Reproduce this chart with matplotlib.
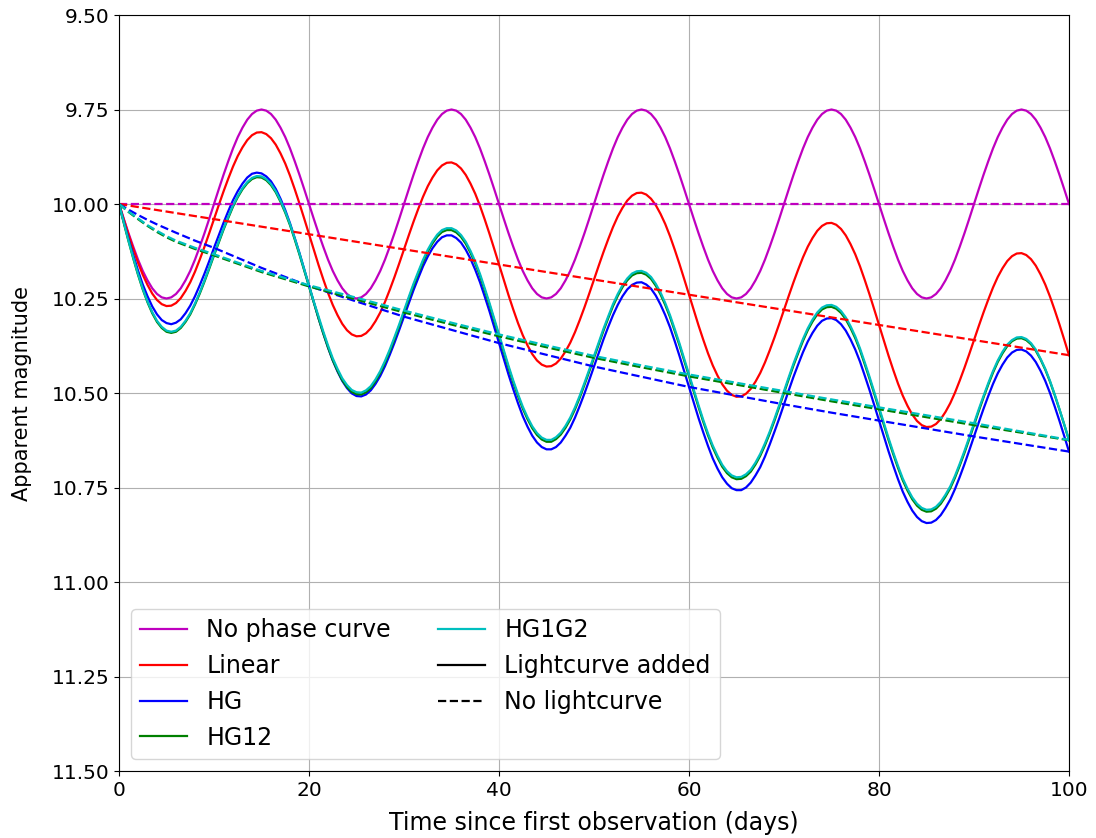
import numpy as np
import matplotlib
matplotlib.use('Agg')
import matplotlib.pyplot as plt
from matplotlib.lines import Line2D
from matplotlib.ticker import FormatStrFormatter

# days, one sample every half day for the curves with the lightcurve added
t_days = np.arange(0, 100.01, 0.5)

mag_none = [
    10.000, 10.039, 10.077, 10.113, 10.147, 10.177, 10.202, 10.223, 10.238, 10.247,
    10.250, 10.247, 10.238, 10.223, 10.202, 10.177, 10.147, 10.113, 10.077, 10.039,
    10.000, 9.961, 9.923, 9.887, 9.853, 9.823, 9.798, 9.777, 9.762, 9.753,
    9.750, 9.753, 9.762, 9.777, 9.798, 9.823, 9.853, 9.887, 9.923, 9.961,
    10.000, 10.039, 10.077, 10.113, 10.147, 10.177, 10.202, 10.223, 10.238, 10.247,
    10.250, 10.247, 10.238, 10.223, 10.202, 10.177, 10.147, 10.113, 10.077, 10.039,
    10.000, 9.961, 9.923, 9.887, 9.853, 9.823, 9.798, 9.777, 9.762, 9.753,
    9.750, 9.753, 9.762, 9.777, 9.798, 9.823, 9.853, 9.887, 9.923, 9.961,
    10.000, 10.039, 10.077, 10.113, 10.147, 10.177, 10.202, 10.223, 10.238, 10.247,
    10.250, 10.247, 10.238, 10.223, 10.202, 10.177, 10.147, 10.113, 10.077, 10.039,
    10.000, 9.961, 9.923, 9.887, 9.853, 9.823, 9.798, 9.777, 9.762, 9.753,
    9.750, 9.753, 9.762, 9.777, 9.798, 9.823, 9.853, 9.887, 9.923, 9.961,
    10.000, 10.039, 10.077, 10.113, 10.147, 10.177, 10.202, 10.223, 10.238, 10.247,
    10.250, 10.247, 10.238, 10.223, 10.202, 10.177, 10.147, 10.113, 10.077, 10.039,
    10.000, 9.961, 9.923, 9.887, 9.853, 9.823, 9.798, 9.777, 9.762, 9.753,
    9.750, 9.753, 9.762, 9.777, 9.798, 9.823, 9.853, 9.887, 9.923, 9.961,
    10.000, 10.039, 10.077, 10.113, 10.147, 10.177, 10.202, 10.223, 10.238, 10.247,
    10.250, 10.247, 10.238, 10.223, 10.202, 10.177, 10.147, 10.113, 10.077, 10.039,
    10.000, 9.961, 9.923, 9.887, 9.853, 9.823, 9.798, 9.777, 9.762, 9.753,
    9.750, 9.753, 9.762, 9.777, 9.798, 9.823, 9.853, 9.887, 9.923, 9.961,
    10.000]

mag_linear = [
    10.000, 10.041, 10.081, 10.119, 10.155, 10.187, 10.214, 10.237, 10.254, 10.265,
    10.270, 10.269, 10.262, 10.249, 10.230, 10.207, 10.179, 10.147, 10.113, 10.077,
    10.040, 10.003, 9.967, 9.933, 9.901, 9.873, 9.850, 9.831, 9.818, 9.811,
    9.810, 9.815, 9.826, 9.843, 9.866, 9.893, 9.925, 9.961, 9.999, 10.039,
    10.080, 10.121, 10.161, 10.199, 10.235, 10.267, 10.294, 10.317, 10.334, 10.345,
    10.350, 10.349, 10.342, 10.329, 10.310, 10.287, 10.259, 10.227, 10.193, 10.157,
    10.120, 10.083, 10.047, 10.013, 9.981, 9.953, 9.930, 9.911, 9.898, 9.891,
    9.890, 9.895, 9.906, 9.923, 9.946, 9.973, 10.005, 10.041, 10.079, 10.119,
    10.160, 10.201, 10.241, 10.279, 10.315, 10.347, 10.374, 10.397, 10.414, 10.425,
    10.430, 10.429, 10.422, 10.409, 10.390, 10.367, 10.339, 10.307, 10.273, 10.237,
    10.200, 10.163, 10.127, 10.093, 10.061, 10.033, 10.010, 9.991, 9.978, 9.971,
    9.970, 9.975, 9.986, 10.003, 10.026, 10.053, 10.085, 10.121, 10.159, 10.199,
    10.240, 10.281, 10.321, 10.359, 10.395, 10.427, 10.454, 10.477, 10.494, 10.505,
    10.510, 10.509, 10.502, 10.489, 10.470, 10.447, 10.419, 10.387, 10.353, 10.317,
    10.280, 10.243, 10.207, 10.173, 10.141, 10.113, 10.090, 10.071, 10.058, 10.051,
    10.050, 10.055, 10.066, 10.083, 10.106, 10.133, 10.165, 10.201, 10.239, 10.279,
    10.320, 10.361, 10.401, 10.439, 10.475, 10.507, 10.534, 10.557, 10.574, 10.585,
    10.590, 10.589, 10.582, 10.569, 10.550, 10.527, 10.499, 10.467, 10.433, 10.397,
    10.360, 10.323, 10.287, 10.253, 10.221, 10.193, 10.170, 10.151, 10.138, 10.131,
    10.130, 10.135, 10.146, 10.163, 10.186, 10.213, 10.245, 10.281, 10.319, 10.359,
    10.400]

mag_hg = [
    10.000, 10.047, 10.092, 10.135, 10.176, 10.213, 10.244, 10.271, 10.292, 10.307,
    10.315, 10.318, 10.314, 10.305, 10.289, 10.269, 10.244, 10.215, 10.184, 10.151,
    10.116, 10.083, 10.050, 10.019, 9.990, 9.966, 9.946, 9.930, 9.920, 9.917,
    9.919, 9.927, 9.940, 9.960, 9.986, 10.016, 10.051, 10.090, 10.130, 10.173,
    10.217, 10.260, 10.302, 10.342, 10.380, 10.414, 10.443, 10.468, 10.487, 10.501,
    10.508, 10.509, 10.504, 10.493, 10.476, 10.455, 10.429, 10.399, 10.367, 10.333,
    10.298, 10.263, 10.228, 10.196, 10.165, 10.139, 10.117, 10.100, 10.088, 10.083,
    10.083, 10.090, 10.102, 10.121, 10.145, 10.174, 10.207, 10.245, 10.284, 10.326,
    10.368, 10.410, 10.451, 10.490, 10.527, 10.561, 10.589, 10.613, 10.631, 10.643,
    10.649, 10.649, 10.643, 10.631, 10.613, 10.592, 10.565, 10.534, 10.501, 10.466,
    10.430, 10.394, 10.358, 10.325, 10.294, 10.267, 10.244, 10.226, 10.214, 10.208,
    10.207, 10.213, 10.224, 10.242, 10.266, 10.294, 10.326, 10.363, 10.402, 10.443,
    10.484, 10.526, 10.566, 10.604, 10.640, 10.673, 10.700, 10.723, 10.740, 10.752,
    10.757, 10.757, 10.750, 10.737, 10.718, 10.696, 10.668, 10.636, 10.602, 10.567,
    10.530, 10.493, 10.457, 10.424, 10.392, 10.364, 10.341, 10.322, 10.309, 10.303,
    10.302, 10.307, 10.318, 10.335, 10.358, 10.385, 10.417, 10.454, 10.492, 10.532,
    10.573, 10.614, 10.654, 10.692, 10.728, 10.761, 10.788, 10.811, 10.828, 10.839,
    10.844, 10.843, 10.836, 10.823, 10.804, 10.782, 10.754, 10.722, 10.688, 10.652,
    10.615, 10.578, 10.542, 10.508, 10.476, 10.448, 10.425, 10.406, 10.393, 10.386,
    10.385, 10.390, 10.401, 10.418, 10.441, 10.468, 10.500, 10.536, 10.574, 10.614,
    10.655]

mag_hg12 = [
    10.000, 10.050, 10.098, 10.144, 10.187, 10.226, 10.260, 10.289, 10.312, 10.328,
    10.338, 10.341, 10.338, 10.328, 10.312, 10.292, 10.266, 10.237, 10.205, 10.171,
    10.136, 10.102, 10.068, 10.037, 10.007, 9.982, 9.961, 9.945, 9.934, 9.929,
    9.930, 9.937, 9.950, 9.969, 9.994, 10.023, 10.056, 10.094, 10.134, 10.176,
    10.218, 10.261, 10.302, 10.342, 10.379, 10.413, 10.441, 10.466, 10.484, 10.497,
    10.503, 10.504, 10.498, 10.487, 10.469, 10.447, 10.420, 10.390, 10.357, 10.323,
    10.287, 10.251, 10.216, 10.184, 10.153, 10.126, 10.104, 10.086, 10.074, 10.069,
    10.069, 10.075, 10.087, 10.105, 10.129, 10.157, 10.190, 10.228, 10.267, 10.308,
    10.350, 10.392, 10.433, 10.472, 10.508, 10.541, 10.569, 10.593, 10.611, 10.623,
    10.629, 10.629, 10.622, 10.610, 10.592, 10.570, 10.543, 10.512, 10.478, 10.443,
    10.407, 10.371, 10.335, 10.302, 10.270, 10.243, 10.220, 10.202, 10.189, 10.183,
    10.182, 10.187, 10.198, 10.216, 10.239, 10.267, 10.299, 10.336, 10.374, 10.415,
    10.456, 10.497, 10.537, 10.576, 10.612, 10.644, 10.671, 10.695, 10.712, 10.723,
    10.728, 10.727, 10.720, 10.708, 10.689, 10.666, 10.638, 10.607, 10.573, 10.537,
    10.500, 10.463, 10.427, 10.394, 10.362, 10.334, 10.311, 10.292, 10.279, 10.273,
    10.272, 10.277, 10.288, 10.305, 10.328, 10.355, 10.387, 10.424, 10.462, 10.502,
    10.543, 10.584, 10.624, 10.662, 10.698, 10.731, 10.758, 10.781, 10.798, 10.809,
    10.814, 10.813, 10.806, 10.793, 10.774, 10.752, 10.724, 10.692, 10.658, 10.622,
    10.585, 10.548, 10.512, 10.478, 10.446, 10.418, 10.395, 10.376, 10.363, 10.356,
    10.355, 10.360, 10.371, 10.388, 10.411, 10.438, 10.470, 10.506, 10.544, 10.584,
    10.625]

mag_hg1g2 = [
    10.000, 10.049, 10.097, 10.142, 10.185, 10.224, 10.258, 10.286, 10.309, 10.325,
    10.335, 10.338, 10.335, 10.325, 10.309, 10.289, 10.263, 10.234, 10.202, 10.168,
    10.133, 10.099, 10.065, 10.034, 10.004, 9.979, 9.958, 9.942, 9.931, 9.926,
    9.927, 9.934, 9.947, 9.966, 9.991, 10.020, 10.053, 10.091, 10.131, 10.173,
    10.215, 10.258, 10.297, 10.337, 10.374, 10.408, 10.436, 10.461, 10.479, 10.492,
    10.498, 10.499, 10.493, 10.482, 10.464, 10.442, 10.415, 10.385, 10.352, 10.318,
    10.282, 10.246, 10.211, 10.179, 10.148, 10.121, 10.099, 10.081, 10.069, 10.064,
    10.064, 10.070, 10.082, 10.100, 10.124, 10.152, 10.185, 10.223, 10.262, 10.303,
    10.345, 10.387, 10.428, 10.467, 10.503, 10.536, 10.564, 10.588, 10.606, 10.618,
    10.624, 10.624, 10.617, 10.605, 10.587, 10.565, 10.538, 10.507, 10.473, 10.438,
    10.402, 10.366, 10.330, 10.297, 10.265, 10.238, 10.215, 10.197, 10.184, 10.178,
    10.177, 10.182, 10.193, 10.211, 10.234, 10.262, 10.294, 10.331, 10.369, 10.410,
    10.451, 10.492, 10.532, 10.571, 10.607, 10.639, 10.666, 10.690, 10.707, 10.718,
    10.723, 10.722, 10.715, 10.703, 10.684, 10.661, 10.633, 10.602, 10.568, 10.532,
    10.495, 10.458, 10.422, 10.389, 10.357, 10.329, 10.306, 10.287, 10.274, 10.268,
    10.267, 10.272, 10.283, 10.300, 10.323, 10.350, 10.382, 10.419, 10.457, 10.497,
    10.538, 10.579, 10.619, 10.657, 10.693, 10.726, 10.753, 10.776, 10.793, 10.804,
    10.809, 10.808, 10.801, 10.788, 10.769, 10.747, 10.719, 10.687, 10.653, 10.617,
    10.580, 10.543, 10.508, 10.474, 10.442, 10.414, 10.391, 10.372, 10.360, 10.353,
    10.352, 10.357, 10.368, 10.385, 10.409, 10.436, 10.468, 10.504, 10.543, 10.583,
    10.624]

# phase curve only (no lightcurve)
t_dash = [0, 1, 2, 3, 4, 5, 6, 8, 10, 15, 20, 25, 30, 35, 40, 45, 50,
          55, 60, 65, 70, 75, 80, 85, 90, 95, 100]
dash_none = [10.0] * len(t_dash)
dash_linear = [10.000, 10.004, 10.008, 10.012, 10.016, 10.020, 10.024, 10.032, 10.040,
               10.060, 10.080, 10.100, 10.120, 10.140, 10.160, 10.180, 10.200, 10.220,
               10.240, 10.260, 10.280, 10.300, 10.320, 10.340, 10.360, 10.380, 10.400]
dash_hg = [10.000, 10.015, 10.029, 10.042, 10.054, 10.065, 10.076, 10.097, 10.116,
           10.169, 10.217, 10.258, 10.298, 10.333, 10.368, 10.399, 10.430, 10.457,
           10.484, 10.507, 10.530, 10.552, 10.573, 10.594, 10.615, 10.635, 10.655]
dash_hg12 = [10.000, 10.021, 10.040, 10.058, 10.074, 10.088, 10.100, 10.119, 10.136,
             10.180, 10.218, 10.253, 10.287, 10.319, 10.350, 10.379, 10.407, 10.432,
             10.456, 10.478, 10.500, 10.522, 10.543, 10.564, 10.585, 10.605, 10.625]
dash_hg1g2 = [10.000, 10.020, 10.038, 10.056, 10.071, 10.085, 10.097, 10.116, 10.133,
              10.177, 10.215, 10.248, 10.282, 10.314, 10.345, 10.374, 10.402, 10.427,
              10.451, 10.473, 10.495, 10.517, 10.538, 10.559, 10.580, 10.602, 10.624]

names = ['No phase curve', 'Linear', 'HG', 'HG12', 'HG1G2']
colors = ['m', 'r', 'b', 'g', 'c']
solid = [mag_none, mag_linear, mag_hg, mag_hg12, mag_hg1g2]
dashed = [dash_none, dash_linear, dash_hg, dash_hg12, dash_hg1g2]

plt.rcParams['font.size'] = 14.5

fig = plt.figure(figsize=(10.96, 8.38), dpi=100)
ax = fig.add_axes([119/1096, 1-771/838, 950/1096, 756/838])

for name, c, s in zip(names, colors, solid):
    ax.plot(t_days, s, color=c, lw=1.6)
for name, c, d in zip(names, colors, dashed):
    ax.plot(t_dash, d, color=c, lw=1.6, ls='--')

ax.set_xlim(0, 100)
ax.set_ylim(11.5, 9.5)
ax.set_yticks(np.arange(9.5, 11.51, 0.25))
ax.yaxis.set_major_formatter(FormatStrFormatter('%.2f'))
ax.grid(True)
ax.set_xlabel('Time since first observation (days)', fontsize=17, labelpad=8)
ax.set_ylabel('Apparent magnitude', fontsize=15, labelpad=14)

handles = [Line2D([], [], color=c, lw=1.6) for c in colors]
handles.append(Line2D([], [], color='k', lw=1.6))
handles.append(Line2D([], [], color='k', lw=1.6, ls='--'))
labels = names + ['Lightcurve added', 'No lightcurve']
ax.legend(handles, labels, ncol=2, loc='lower left', fontsize=17)

fig.savefig('out.png', dpi=100)
